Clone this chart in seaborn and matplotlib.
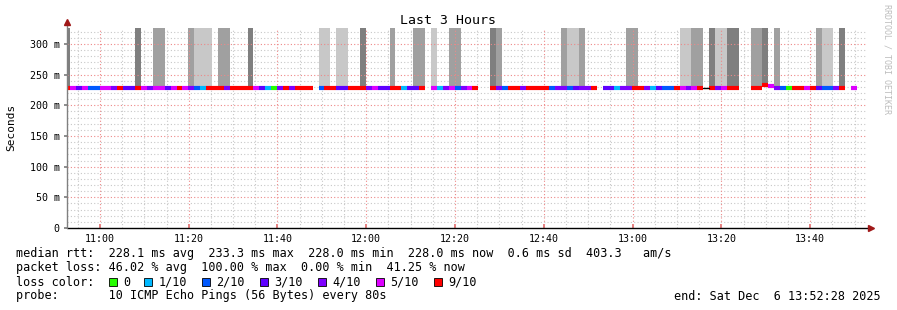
import numpy as np
import pandas as pd
import matplotlib
matplotlib.use("Agg")
import matplotlib.pyplot as plt
import matplotlib.dates as mdates
from matplotlib.ticker import MultipleLocator, FixedLocator, FixedFormatter
from matplotlib.patches import Rectangle
import seaborn as sns

# ---------------- data ----------------
title = "Last 3 Hours"
axis_start = "2025-12-06 10:52:28"
axis_end = "2025-12-06 13:52:28"
first_step = "2025-12-06 10:51:55"
step_seconds = 80

# loss per 80 s step (tenths lost); None = no data, -1 = unclassified (black)
loss_tenths = [
    9, 5, 3, 5, 2, 2, 5, 5, 4, 9,
    3, 3, 9, 5, 4, 5, 5, 3, 5, 9,
    5, 4, 2, 1, 9, 9, 9, 4, 9, 9,
    9, 9, 5, 3, 1, 0, 4, 9, 4, 9,
    9, 9, None, 2, 9, 9, 3, 3, 9, 9,
    9, 4, 5, 3, 3, 9, 9, 1, 3, 3,
    9, None, 5, 1, 4, 5, 2, 4, 5, 9,
    None, None, 9, 4, 2, 9, 9, 4, 9, 9,
    9, 9, 2, 4, 4, 2, 3, 4, 4, 9,
    None, 3, 3, 1, 4, 4, 9, 9, 4, 1,
    3, 2, 2, 9, 5, 4, 5, 9, -1, 9,
    4, 5, 9, 9, None, None, 9, 9, 9, 5,
    4, 2, 0, 9, 9, 5, 9, 3, 2, 2,
    4, 9, None, 5,
]
median_ms = [
    228.0, 228.0, 228.0, 228.0, 228.0, 228.0, 228.0, 228.0, 228.0, 228.0,
    228.0, 228.0, 228.0, 228.0, 228.0, 228.0, 228.0, 228.0, 228.0, 228.0,
    228.0, 228.0, 228.0, 228.0, 228.0, 228.0, 228.0, 228.0, 228.0, 228.0,
    228.0, 228.0, 228.0, 228.0, 228.0, 228.0, 228.0, 228.0, 228.0, 228.0,
    228.0, 228.0, np.nan, 228.0, 228.0, 228.0, 228.0, 228.0, 228.0, 228.0,
    228.0, 228.0, 228.0, 228.0, 228.0, 228.0, 228.0, 228.0, 228.0, 228.0,
    228.0, np.nan, 228.0, 228.0, 228.0, 228.0, 228.0, 228.0, 228.0, 228.0,
    np.nan, np.nan, 228.0, 228.0, 228.0, 228.0, 228.0, 228.0, 228.0, 228.0,
    228.0, 228.0, 228.0, 228.0, 228.0, 228.0, 228.0, 228.0, 228.0, 228.0,
    np.nan, 228.0, 228.0, 228.0, 228.0, 228.0, 228.0, 228.0, 228.0, 228.0,
    228.0, 228.0, 228.0, 228.0, 228.0, 228.0, 228.0, 228.0, 228.0, 228.0,
    228.0, 228.0, 228.0, 228.0, np.nan, np.nan, 228.0, 228.0, 233.3, 232.0,
    228.0, 228.0, 228.0, 228.0, 228.0, 228.0, 228.0, 228.0, 228.0, 228.0,
    228.0, 228.0, np.nan, 228.0,
]
# smoke shade per step: 0 none, 1 light, 2 medium, 3 dark
smoke_level = [
    3, 0, 0, 0, 0, 0, 0, 0, 0, 0,
    0, 0, 3, 0, 0, 2, 2, 0, 0, 0,
    0, 2, 1, 1, 1, 0, 2, 2, 0, 0,
    0, 3, 0, 0, 0, 0, 0, 0, 0, 0,
    0, 0, 0, 1, 1, 0, 1, 1, 0, 0,
    3, 0, 0, 0, 0, 2, 0, 0, 0, 2,
    2, 0, 1, 0, 0, 2, 2, 0, 0, 0,
    0, 0, 3, 2, 0, 0, 0, 0, 0, 0,
    0, 0, 0, 0, 2, 1, 1, 2, 0, 0,
    0, 0, 0, 0, 0, 2, 2, 0, 0, 0,
    0, 0, 0, 0, 1, 1, 2, 2, 0, 3,
    1, 1, 3, 3, 0, 0, 2, 2, 3, 0,
    2, 0, 0, 0, 0, 0, 0, 2, 1, 1,
    0, 3, 0, 0,
]
legend_labels = ["0", "1/10", "2/10", "3/10", "4/10", "5/10", "9/10"]
legend_tenths = [0, 1, 2, 3, 4, 5, 9]
stat_lines = [
    "median rtt:  228.1 ms avg  233.3 ms max  228.0 ms min  228.0 ms now  0.6 ms sd  403.3   am/s",
    "packet loss: 46.02 % avg  100.00 % max  0.00 % min  41.25 % now",
]
probe_line = "probe:       10 ICMP Echo Pings (56 Bytes) every 80s"
end_line = "end: Sat Dec  6 13:52:28 2025"
y_ticks = [0, 50, 100, 150, 200, 250, 300]
y_ticklabels = ["0", "50 m", "100 m", "150 m", "200 m", "250 m", "300 m"]

# ---------------- styles ----------------
loss_colors = {0: "#26ff00", 1: "#00b8ff", 2: "#0059ff", 3: "#5e00ff",
               4: "#7e00ff", 5: "#dd00ff", 9: "#ff0000"}
smoke_colors = {1: "#c8c8c8", 2: "#a0a0a0", 3: "#7f7f7f"}

sns.set_theme(style="white")
plt.rcParams["font.family"] = ["DejaVu Sans Mono", "DejaVu Sans"]
plt.rcParams["text.color"] = "#000000"

W, H = 897, 310
fig = plt.figure(figsize=(W / 100, H / 100), dpi=100)
fig.patch.set_facecolor("white")
ax = fig.add_axes([66.5 / W, (H - 228) / H, 799 / W, 200 / H])
ax.set_facecolor("white")

step_times = pd.date_range(first_step, periods=len(median_ms), freq=f"{step_seconds}s")
t0 = mdates.date2num(step_times.to_pydatetime())
step_w = step_seconds / 86400.0
t1 = t0 + step_w

# smoke bars
for lvl in (1, 2, 3):
    idx = [i for i, s in enumerate(smoke_level) if s == lvl]
    ax.bar(t0[idx], np.full(len(idx), 400.0) - np.array(median_ms)[idx],
           bottom=np.array(median_ms)[idx], width=step_w, align="edge",
           color=smoke_colors[lvl], linewidth=0, zorder=1)

# median line colored by loss, via seaborn
rows = []
for i, (lv, m) in enumerate(zip(loss_tenths, median_ms)):
    if lv is None or np.isnan(m) or lv < 0:
        continue
    rows.append({"t": t0[i], "ms": m, "seg": i, "loss": lv})
    rows.append({"t": t1[i], "ms": m, "seg": i, "loss": lv})
df = pd.DataFrame(rows)
sns.lineplot(data=df, x="t", y="ms", hue="loss", units="seg", estimator=None,
             palette=loss_colors, linewidth=3.0, legend=False, ax=ax,
             solid_capstyle="butt", zorder=5)
# unclassified steps drawn thin black
for i, (lv, m) in enumerate(zip(loss_tenths, median_ms)):
    if lv == -1:
        ax.plot([t0[i], t1[i]], [m, m], color="black", lw=1.0, zorder=5)

ax.set_xlim(mdates.date2num(pd.Timestamp(axis_start)), mdates.date2num(pd.Timestamp(axis_end)))
ax.set_ylim(0, 326)
ax.set_xlabel("")
ax.set_ylabel("")

ax.xaxis.set_major_locator(mdates.MinuteLocator(byminute=[0, 20, 40]))
ax.xaxis.set_minor_locator(mdates.MinuteLocator(byminute=list(range(0, 60, 5))))
ax.xaxis.set_major_formatter(mdates.DateFormatter("%H:%M"))
ax.yaxis.set_major_locator(FixedLocator(y_ticks))
ax.yaxis.set_major_formatter(FixedFormatter(y_ticklabels))
ax.yaxis.set_minor_locator(MultipleLocator(10))

for s in ax.spines.values():
    s.set_visible(False)

# grids
ax.set_axisbelow(True)
ax.grid(which="minor", color="#c8c8c8", linestyle=(0, (1, 2)), linewidth=0.8)
ax.grid(which="major", visible=False)
for xv in ax.get_xticks():
    ax.axvline(xv, color="#ee8888", linestyle=(0, (1, 2)), linewidth=0.8, zorder=2)
for yv in y_ticks[1:]:
    ax.axhline(yv, color="#ee8888", linestyle=(0, (1, 2)), linewidth=0.8, zorder=2)

ax.tick_params(axis="x", which="major", direction="in", length=3, color="#e07070",
               pad=4, labelsize=7.2, labelcolor="#000000")
ax.tick_params(axis="x", which="minor", direction="in", length=2, color="#b0b0b0")
ax.tick_params(axis="y", which="major", direction="out", length=2.5, color="#808080",
               pad=2.5, labelsize=7.2, labelcolor="#000000", left=True)
ax.tick_params(axis="y", which="minor", length=0)
ax.tick_params(axis="x", bottom=True)

# axis lines and arrows
ax.plot([0, 1.006], [0, 0], transform=ax.transAxes, color="black", lw=1.0,
        clip_on=False, zorder=6)
ax.plot([0, 0], [0, 1.025], transform=ax.transAxes, color="#808080", lw=1.0,
        clip_on=False, zorder=6)
ax.plot([1.007], [0], transform=ax.transAxes, marker=">", color="#a01818",
        markersize=4.5, clip_on=False, zorder=7)
ax.plot([0], [1.028], transform=ax.transAxes, marker="^", color="#a01818",
        markersize=4.5, clip_on=False, zorder=7)

# texts
def fx(px):
    return px / W

def fy(py):
    return 1 - py / H

fig.text(fx(448), fy(20), title, ha="center", va="center", fontsize=9.5)
fig.text(fx(11), fy(127), "Seconds", rotation=90, ha="center", va="center", fontsize=8)
fig.text(fx(887), fy(4), "RRDTOOL / TOBI OETIKER", rotation=270, ha="center",
         va="top", fontsize=6, color="#bdbdbd")

fs = 8.5
fig.text(fx(16), fy(254), stat_lines[0], ha="left", va="center", fontsize=fs)
fig.text(fx(16), fy(268), stat_lines[1], ha="left", va="center", fontsize=fs)
fig.text(fx(16), fy(282), "loss color:", ha="left", va="center", fontsize=fs)
sq_x = [109, 144, 202, 260, 318, 376, 434]
for sx, lab, lv in zip(sq_x, legend_labels, legend_tenths):
    fig.patches.append(Rectangle((fx(sx), fy(285.5)), 8 / W, 8 / H,
                                 transform=fig.transFigure, facecolor=loss_colors[lv],
                                 edgecolor="#000000", linewidth=0.6))
    fig.text(fx(sx + 14.5), fy(282), lab, ha="left", va="center", fontsize=fs)
fig.text(fx(16), fy(296), probe_line, ha="left", va="center", fontsize=fs)
fig.text(fx(881), fy(296), end_line, ha="right", va="center", fontsize=fs)

fig.savefig("out.png", dpi=100, facecolor="white")
